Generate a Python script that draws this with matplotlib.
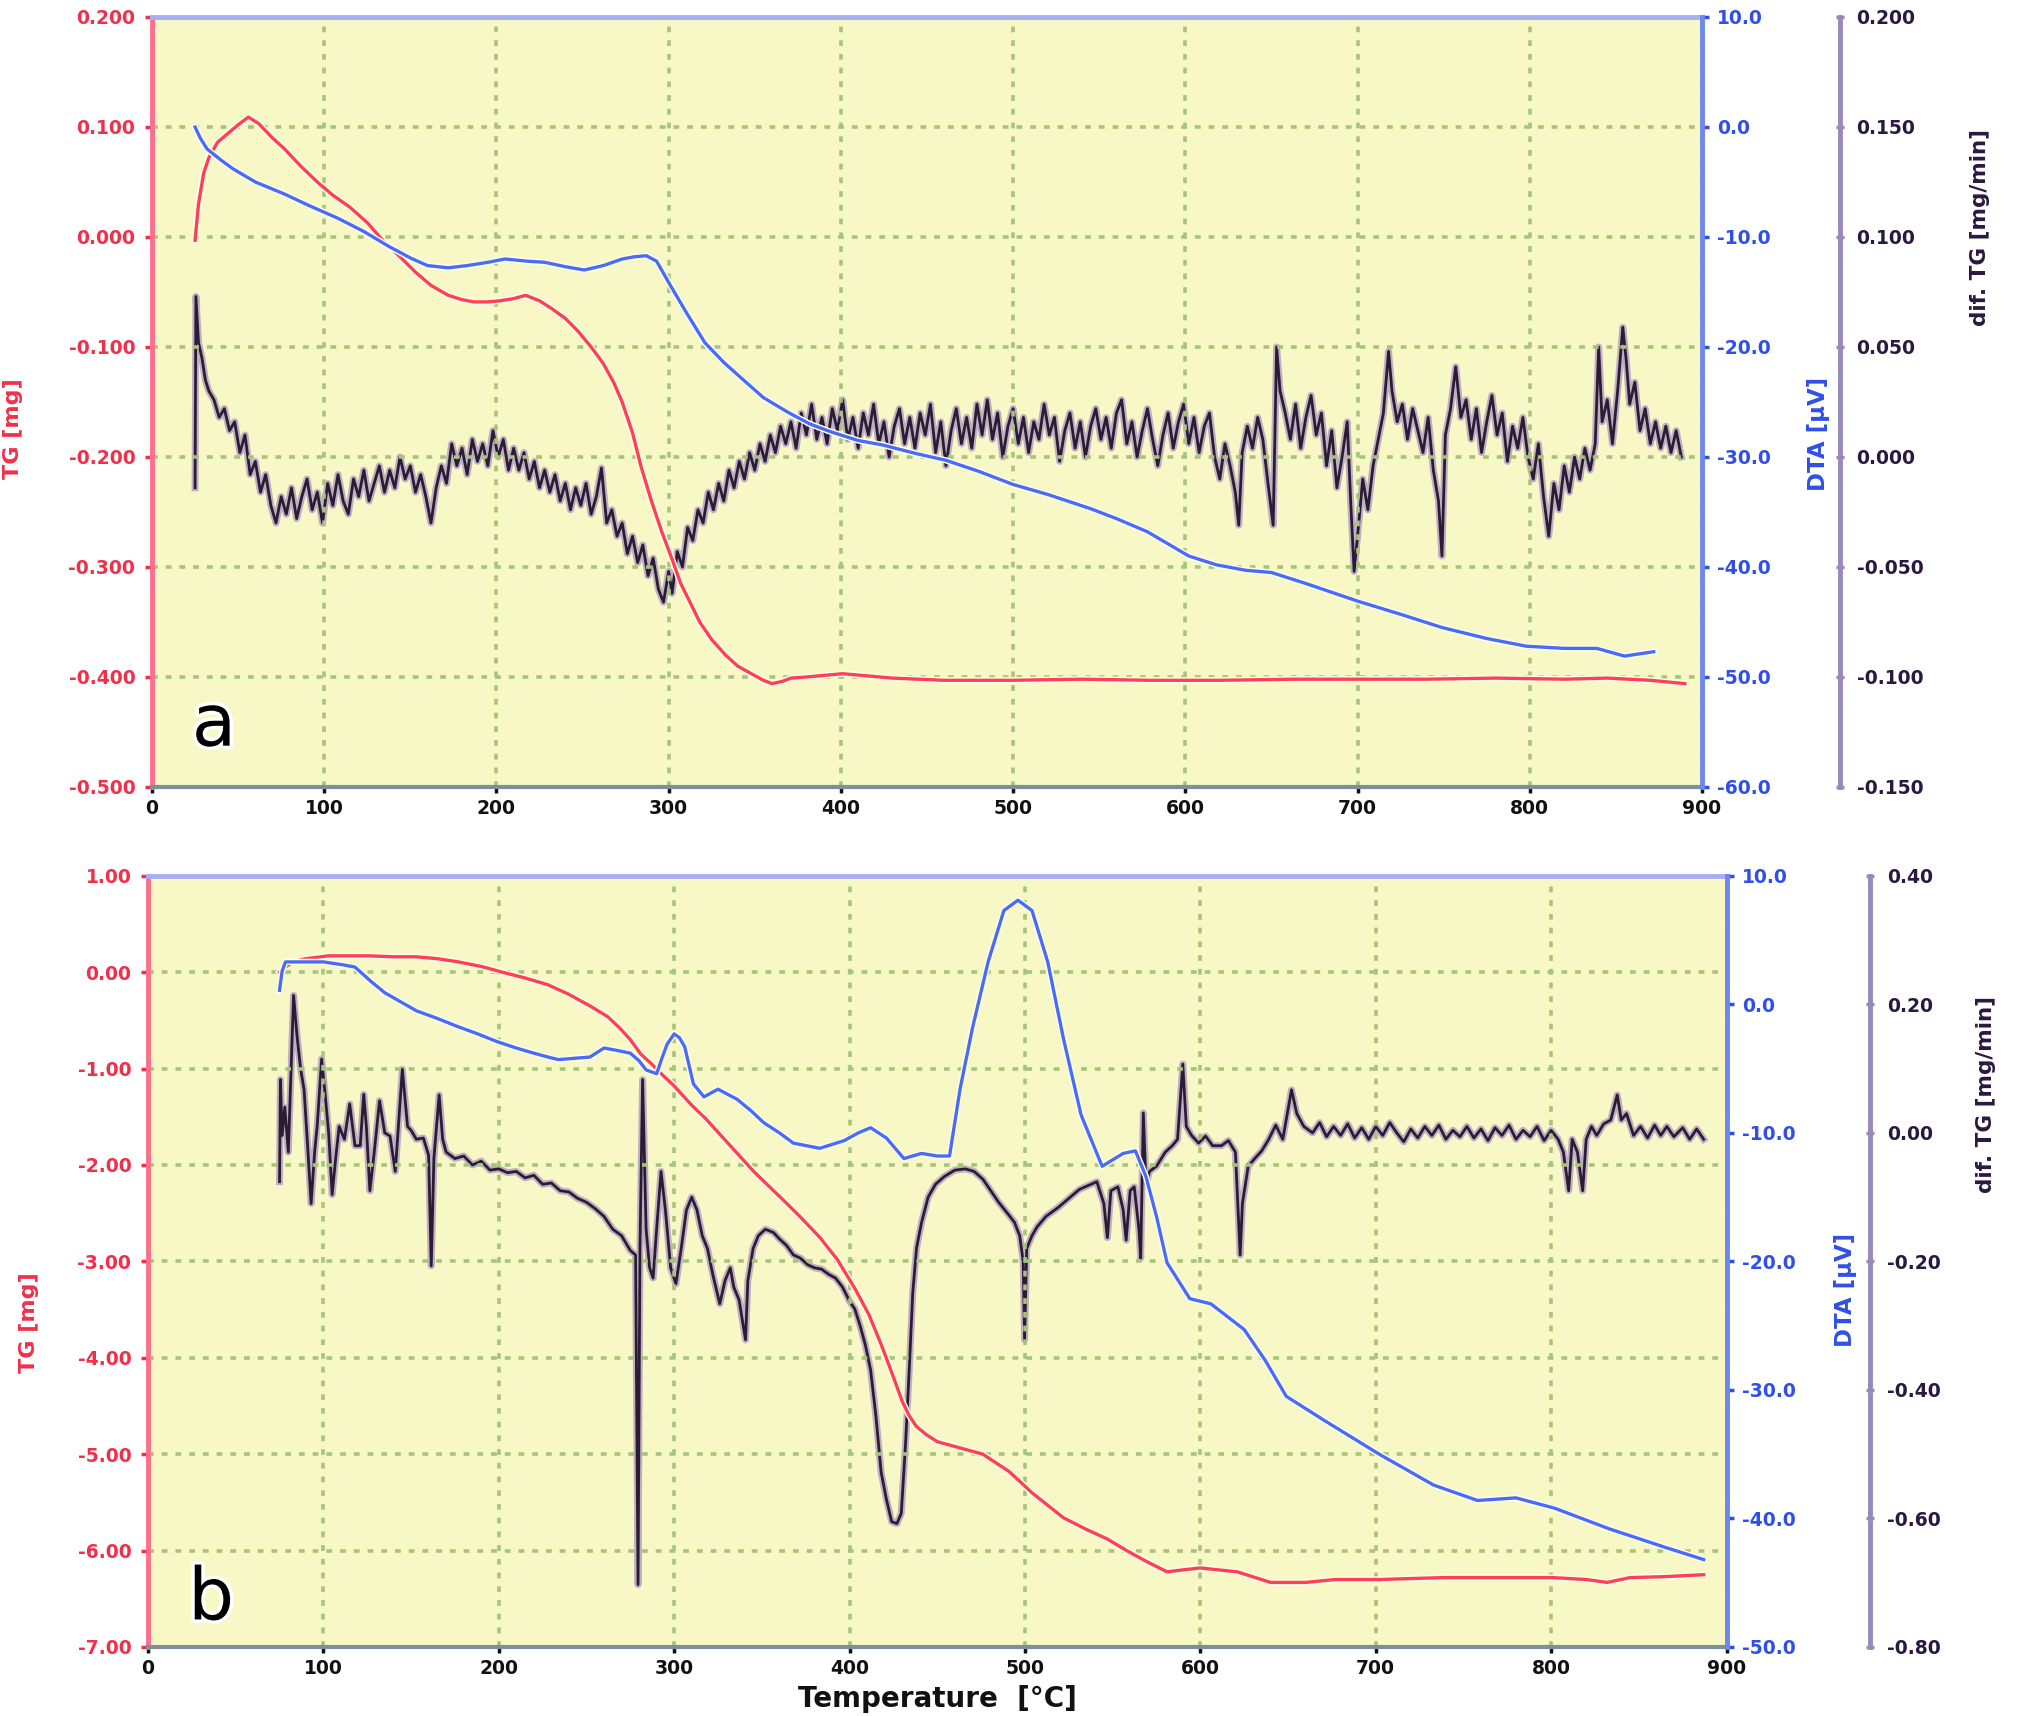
import matplotlib
matplotlib.use("Agg")
import matplotlib.pyplot as plt
import matplotlib.patheffects as pe
import numpy as np

# ---------------- data: panel a ----------------
a_tg_T = [25, 27, 30, 33, 38, 44, 50, 56, 62, 70, 77, 86, 96, 105, 115, 125, 134, 144, 153, 162, 172, 180, 187,
          195, 202, 210, 217, 225, 232, 240, 247, 255, 262, 268, 273, 279, 284, 290, 296, 302, 307, 313, 318,
          325, 333, 340, 348, 355, 360, 366, 371, 380, 401, 430, 460, 499, 540, 580, 620, 664, 700, 740,
          780, 820, 845, 870, 890]
a_tg = [-0.003, 0.030, 0.058, 0.072, 0.086, 0.094, 0.102, 0.109, 0.103, 0.090, 0.080, 0.065, 0.050, 0.038,
        0.027, 0.013, -0.003, -0.018, -0.032, -0.044, -0.053, -0.057, -0.059, -0.059, -0.058, -0.056, -0.053,
        -0.058, -0.065, -0.074, -0.085, -0.100, -0.115, -0.132, -0.150, -0.178, -0.209, -0.240, -0.268,
        -0.293, -0.315, -0.334, -0.350, -0.366, -0.380, -0.390, -0.397, -0.403, -0.406, -0.404, -0.401,
        -0.400, -0.397, -0.401, -0.403, -0.403, -0.402, -0.403, -0.403, -0.402, -0.402, -0.402, -0.401,
        -0.402, -0.401, -0.403, -0.406]

a_dta_T = [25, 28, 32, 40, 47, 60, 77, 92, 108, 123, 138, 150, 160, 172, 183, 195, 205, 218, 228, 240, 251,
           262, 273, 280, 287, 293, 301, 310, 321, 332, 342, 355, 370, 382, 394, 410, 424, 444, 461, 480, 500,
           520, 545, 560, 578, 590, 602, 618, 635, 650, 670, 700, 725, 749, 775, 798, 820, 839, 855, 872]
a_dta = [0.0, -1.0, -2.0, -3.0, -3.8, -5.0, -6.1, -7.2, -8.3, -9.5, -10.9, -11.9, -12.6, -12.8, -12.6, -12.3,
         -12.0, -12.2, -12.3, -12.7, -13.0, -12.6, -12.0, -11.8, -11.7, -12.2, -14.4, -16.8, -19.6, -21.4,
         -22.8, -24.6, -26.0, -27.0, -27.7, -28.5, -28.9, -29.7, -30.3, -31.3, -32.5, -33.4, -34.7, -35.6,
         -36.8, -37.9, -39.0, -39.8, -40.3, -40.5, -41.5, -43.1, -44.3, -45.5, -46.5, -47.2, -47.4, -47.4,
         -48.1, -47.7]

a_dtg_T = [25, 25.5, 27, 29, 31, 33, 36, 39, 42, 45, 48, 51, 54, 57, 60, 63, 66, 69, 72, 75, 78, 81, 84, 87,
           90, 93, 96, 99, 102, 105, 108, 111, 114, 117, 120, 123, 126, 129, 132, 135, 138, 141, 144, 147,
           150, 153, 156, 159, 162, 165, 168, 171, 174, 177, 180, 183, 186, 189, 192, 195, 198, 201, 204,
           207, 210, 213, 216, 219, 222, 225, 228, 231, 234, 237, 240, 243, 246, 249, 252, 255, 258, 261,
           264, 267, 270, 273, 276, 279, 282, 285, 288, 291, 294, 297, 300, 302, 305, 308, 311, 314, 317,
           320, 323, 326, 329, 332, 335, 338, 341, 344, 347, 350, 353, 356, 359, 362, 365, 368, 371, 374,
           377, 380, 383, 386, 389, 392, 395, 398, 401, 404, 407, 410, 413, 416, 419, 422, 425, 428, 431,
           434, 437, 440, 443, 446, 449, 452, 455, 458, 461, 464, 467, 470, 473, 476, 479, 482, 485, 488,
           491, 494, 497, 500, 503, 506, 509, 512, 515, 518, 521, 524, 527, 530, 533, 536, 539, 542, 545,
           548, 551, 554, 557, 560, 563, 566, 569, 572, 575, 578, 581, 584, 587, 590, 593, 596, 599, 602,
           605, 608, 611, 614, 617, 620, 623, 626, 629, 631, 633, 636, 639, 642, 645, 648, 651, 653, 655,
           658, 661, 664, 667, 670, 673, 676, 679, 682, 685, 688, 691, 694, 696, 698, 700, 703, 706, 709,
           712, 715, 718, 720, 723, 726, 729, 732, 735, 738, 741, 744, 747, 749, 751, 754, 757, 760, 763,
           766, 769, 772, 775, 778, 781, 784, 787, 790, 793, 796, 799, 802, 805, 808, 811, 814, 817, 820,
           823, 826, 829, 832, 835, 838, 840, 842, 845, 848, 851, 854, 856, 858, 861, 864, 867, 870, 873,
           876, 879, 882, 885, 888]
a_dtg = [-0.014, 0.073, 0.052, 0.045, 0.035, 0.030, 0.026, 0.018, 0.022, 0.012, 0.016, 0.002, 0.010, -0.008,
         -0.002, -0.016, -0.008, -0.022, -0.030, -0.018, -0.026, -0.014, -0.028, -0.018, -0.010, -0.024,
         -0.016, -0.030, -0.012, -0.022, -0.008, -0.020, -0.026, -0.010, -0.018, -0.006, -0.020, -0.012,
         -0.004, -0.016, -0.006, -0.014, 0.000, -0.010, -0.004, -0.016, -0.008, -0.018, -0.030, -0.014,
         -0.004, -0.012, 0.006, -0.004, 0.004, -0.008, 0.008, -0.002, 0.006, -0.004, 0.012, 0.000, 0.008,
         -0.006, 0.004, -0.006, 0.002, -0.010, -0.002, -0.014, -0.006, -0.016, -0.008, -0.020, -0.012,
         -0.024, -0.014, -0.022, -0.012, -0.026, -0.018, -0.005, -0.030, -0.024, -0.036, -0.030, -0.044,
         -0.036, -0.048, -0.040, -0.054, -0.046, -0.060, -0.066, -0.052, -0.062, -0.043, -0.050, -0.032,
         -0.038, -0.024, -0.030, -0.016, -0.024, -0.012, -0.020, -0.006, -0.014, -0.002, -0.010, 0.002,
         -0.006, 0.006, -0.002, 0.010, 0.002, 0.014, 0.006, 0.016, 0.004, 0.020, 0.010, 0.024, 0.008, 0.018,
         0.006, 0.022, 0.012, 0.026, 0.008, 0.018, 0.004, 0.020, 0.010, 0.024, 0.006, 0.016, 0.000, 0.014,
         0.022, 0.006, 0.018, 0.004, 0.020, 0.010, 0.024, 0.002, 0.016, -0.004, 0.012, 0.022, 0.006, 0.018,
         0.004, 0.024, 0.010, 0.026, 0.008, 0.020, 0.000, 0.014, 0.022, 0.006, 0.018, 0.002, 0.016, 0.008,
         0.024, 0.010, 0.018, -0.002, 0.012, 0.020, 0.004, 0.016, 0.000, 0.014, 0.022, 0.008, 0.018, 0.004,
         0.020, 0.026, 0.006, 0.016, 0.000, 0.012, 0.022, 0.008, -0.004, 0.010, 0.020, 0.004, 0.016, 0.024,
         0.006, 0.018, 0.002, 0.014, 0.020, 0.000, -0.010, 0.006, -0.004, -0.016, -0.031, 0.002, 0.014,
         0.004, 0.018, 0.008, -0.012, -0.031, 0.050, 0.030, 0.020, 0.008, 0.024, 0.004, 0.018, 0.028, 0.010,
         0.020, -0.004, 0.012, -0.014, 0.000, 0.016, -0.020, -0.052, -0.036, -0.010, -0.024, -0.004, 0.008,
         0.020, 0.048, 0.030, 0.016, 0.024, 0.008, 0.022, 0.012, 0.002, 0.018, -0.006, -0.020, -0.045, 0.010,
         0.022, 0.041, 0.018, 0.026, 0.008, 0.022, 0.002, 0.016, 0.028, 0.010, 0.020, -0.002, 0.014, 0.004,
         0.018, 0.000, -0.010, 0.006, -0.018, -0.036, -0.012, -0.024, -0.004, -0.016, 0.000, -0.010, 0.004,
         -0.006, 0.006, 0.050, 0.016, 0.026, 0.006, 0.030, 0.059, 0.044, 0.024, 0.034, 0.012, 0.022, 0.006,
         0.016, 0.004, 0.014, 0.002, 0.012, 0.000]

# ---------------- data: panel b ----------------
b_tg_T = [75, 78, 83, 90, 103, 115, 126, 140, 153, 165, 176, 190, 202, 215, 228, 240, 252, 262, 269, 275, 281,
          287, 293, 300, 310, 318, 327, 336, 345, 354, 362, 372, 383, 393, 403, 411, 418, 424, 430, 434, 438,
          444, 450, 460, 476, 491, 504, 513, 522, 535, 547, 558, 569, 581, 590, 600, 621, 640, 660, 677,
          702, 720, 739, 770, 801, 820, 832, 845, 865, 887]
b_tg = [0.00, 0.05, 0.11, 0.14, 0.17, 0.17, 0.17, 0.16, 0.16, 0.14, 0.11, 0.06, 0.00, -0.06, -0.13, -0.23,
        -0.35, -0.46, -0.58, -0.70, -0.85, -0.95, -1.06, -1.18, -1.38, -1.52, -1.70, -1.88, -2.06, -2.22,
        -2.36, -2.54, -2.75, -2.98, -3.28, -3.55, -3.86, -4.15, -4.45, -4.60, -4.71, -4.80, -4.87, -4.92,
        -5.00, -5.18, -5.40, -5.53, -5.66, -5.78, -5.88, -6.00, -6.11, -6.22, -6.20, -6.18, -6.22, -6.33,
        -6.33, -6.30, -6.30, -6.29, -6.28, -6.28, -6.28, -6.30, -6.33, -6.28, -6.27, -6.25]

b_dta_T = [75, 76.5, 78.4, 90, 100, 110, 118, 127, 135, 144, 153, 165, 176, 188, 199, 210, 220, 228, 234,
           243, 252, 260, 268, 275, 280, 284, 290, 293, 296, 300, 303, 306, 311, 317, 325, 336, 344, 351,
           360, 368, 383, 397, 405, 412, 421, 431, 441, 450, 457, 463, 470, 479, 488, 496, 504, 513, 522,
           532, 544, 556, 563, 569, 575, 581, 594, 606, 625, 637, 649, 671, 702, 733, 758, 780, 802, 833,
           864, 887]
b_dta = [1.1, 2.6, 3.3, 3.3, 3.3, 3.1, 2.9, 1.8, 0.9, 0.2, -0.5, -1.1, -1.7, -2.3, -2.9, -3.4, -3.8, -4.1,
         -4.3, -4.2, -4.1, -3.4, -3.6, -3.8, -4.4, -5.1, -5.4, -4.2, -3.1, -2.3, -2.6, -3.3, -6.2, -7.2, -6.6,
         -7.4, -8.3, -9.2, -10.0, -10.8, -11.2, -10.6, -10.0, -9.6, -10.4, -12.0, -11.6, -11.8, -11.8, -6.6,
         -1.9, 3.3, 7.3, 8.1, 7.3, 3.3, -2.7, -8.6, -12.6, -11.6, -11.4, -13.4, -16.5, -20.1, -22.9, -23.3,
         -25.3, -27.7, -30.5, -32.4, -35.0, -37.4, -38.6, -38.4, -39.2, -40.8, -42.2, -43.2]

b_dtg_T = [75, 75.5, 76.5, 78, 80, 83, 85, 87, 89, 91, 93, 95, 96.5, 99, 101, 103, 105, 107, 109, 112, 115,
           118, 121, 123, 124.5, 126.5, 129, 132, 135, 138, 141, 143, 145, 148, 150, 153, 157, 160, 161.5,
           163, 166, 168, 170, 175, 180, 185, 190, 195, 200, 205, 210, 215, 220, 225, 230, 235, 240, 245,
           250, 255, 260, 265, 270, 275, 278, 279.4, 280.5, 282, 284, 286, 288, 290, 292.5, 295, 298, 301,
           304, 307, 310, 313, 316, 319, 322, 326, 329, 332, 334, 337, 340.7, 342, 345, 348, 352, 356.6,
           360, 364, 368, 372, 376, 380, 384, 388, 392, 396, 400, 403, 406, 409, 412, 415, 418, 421, 424,
           427, 429.5, 432, 434, 436, 438.2, 441, 444.8, 449, 454, 460, 466, 471, 476, 480, 485, 490, 494,
           497, 499, 499.8, 501, 504, 507, 512, 519, 525, 531, 536, 541, 545, 547, 549, 553, 556, 557.7,
           560, 562.3, 565, 566, 567.5, 569, 571, 575, 580, 584, 587, 590, 592, 595, 599, 603, 607, 612,
           616, 620, 622.7, 624, 627.3, 631, 635, 639, 643, 647, 652, 655, 659, 664, 668, 672, 676, 680,
           684, 688, 692, 696, 700, 704, 708, 712, 716, 720, 724, 728, 732, 736, 740, 744, 748, 752, 756,
           760, 764, 768, 772, 776, 780, 784, 788, 792, 796, 800, 804, 807, 810, 812, 815, 818, 820, 823,
           826, 830, 834, 837.7, 840, 843, 847, 851, 855, 859, 862.5, 866, 870, 875, 879, 883, 887]
b_dtg = [-0.076, 0.083, -0.004, 0.040, -0.030, 0.214, 0.150, 0.100, 0.067, -0.020, -0.110, -0.030, 0.012,
         0.115, 0.060, 0.000, -0.096, -0.040, 0.010, -0.010, 0.045, -0.020, -0.020, 0.060, 0.010, -0.090,
         -0.030, 0.050, 0.000, -0.005, -0.060, 0.020, 0.099, 0.010, 0.004, -0.010, -0.008, -0.035, -0.207,
         -0.040, 0.059, -0.010, -0.030, -0.040, -0.036, -0.050, -0.044, -0.058, -0.056, -0.062, -0.060,
         -0.070, -0.066, -0.080, -0.078, -0.090, -0.092, -0.102, -0.108, -0.118, -0.130, -0.150, -0.160,
         -0.183, -0.190, -0.703, -0.180, 0.083, -0.150, -0.210, -0.226, -0.150, -0.060, -0.120, -0.210,
         -0.235, -0.180, -0.120, -0.100, -0.120, -0.160, -0.180, -0.220, -0.266, -0.230, -0.210, -0.240,
         -0.260, -0.322, -0.230, -0.180, -0.160, -0.150, -0.155, -0.165, -0.175, -0.190, -0.195, -0.205,
         -0.210, -0.212, -0.220, -0.226, -0.240, -0.262, -0.274, -0.300, -0.330, -0.369, -0.440, -0.528,
         -0.570, -0.605, -0.608, -0.592, -0.480, -0.370, -0.250, -0.179, -0.140, -0.100, -0.080, -0.068,
         -0.058, -0.056, -0.060, -0.072, -0.088, -0.108, -0.125, -0.139, -0.160, -0.200, -0.322, -0.180,
         -0.160, -0.146, -0.130, -0.116, -0.102, -0.088, -0.082, -0.076, -0.110, -0.163, -0.090, -0.084,
         -0.120, -0.167, -0.090, -0.084, -0.150, -0.195, 0.031, -0.080, -0.060, -0.052, -0.030, -0.020,
         -0.010, 0.107, 0.010, -0.004, -0.016, -0.005, -0.020, -0.020, -0.012, -0.030, -0.190, -0.110,
         -0.052, -0.040, -0.028, -0.010, 0.012, -0.010, 0.067, 0.030, 0.010, 0.000, 0.016, -0.006, 0.010,
         -0.004, 0.014, -0.008, 0.008, -0.010, 0.010, -0.004, 0.016, 0.000, -0.014, 0.006, -0.008, 0.010,
         -0.004, 0.012, -0.010, 0.004, -0.006, 0.010, -0.008, 0.006, -0.012, 0.008, -0.004, 0.012, -0.010,
         0.004, -0.006, 0.010, -0.012, 0.004, -0.010, -0.030, -0.090, -0.010, -0.030, -0.090, -0.010,
         0.010, -0.004, 0.014, 0.020, 0.059, 0.020, 0.030, -0.004, 0.010, -0.008, 0.012, -0.004, 0.010,
         -0.006, 0.008, -0.010, 0.006, -0.010]

# ---------------- axis ticks / labels ----------------
x_ticks = [0, 100, 200, 300, 400, 500, 600, 700, 800, 900]
x_labels = ["0", "100", "200", "300", "400", "500", "600", "700", "800", "900"]

a_tg_ticks = [0.2, 0.1, 0.0, -0.1, -0.2, -0.3, -0.4, -0.5]
a_tg_labels = ["0.200", "0.100", "0.000", "-0.100", "-0.200", "-0.300", "-0.400", "-0.500"]
a_dta_ticks = [10, 0, -10, -20, -30, -40, -50, -60]
a_dta_labels = ["10.0", "0.0", "-10.0", "-20.0", "-30.0", "-40.0", "-50.0", "-60.0"]
a_dtg_ticks = [0.2, 0.15, 0.1, 0.05, 0.0, -0.05, -0.1, -0.15]
a_dtg_labels = ["0.200", "0.150", "0.100", "0.050", "0.000", "-0.050", "-0.100", "-0.150"]

b_tg_ticks = [1, 0, -1, -2, -3, -4, -5, -6, -7]
b_tg_labels = ["1.00", "0.00", "-1.00", "-2.00", "-3.00", "-4.00", "-5.00", "-6.00", "-7.00"]
b_dta_ticks = [10, 0, -10, -20, -30, -40, -50]
b_dta_labels = ["10.0", "0.0", "-10.0", "-20.0", "-30.0", "-40.0", "-50.0"]
b_dtg_ticks = [0.4, 0.2, 0.0, -0.2, -0.4, -0.6, -0.8]
b_dtg_labels = ["0.40", "0.20", "0.00", "-0.20", "-0.40", "-0.60", "-0.80"]

# ---------------- style ----------------
BG = "#F8F8C6"
RED = "#FF4050"
BLUE = "#4A6CF4"
PURPLE = "#9888BC"
RED_TXT = "#F0304A"
BLUE_TXT = "#2F4FE8"
DARK_TXT = "#2A1840"
GRID = "#A6C47A"
TICK_FS = 13.5

plt.rcParams["font.family"] = ["DejaVu Sans"]

fig = plt.figure(figsize=(20.32, 17.16), dpi=100)


def make_panel(rect, tg_lim, tg_ticks, tg_labels, dta_lim, dta_ticks, dta_labels,
               dtg_lim, dtg_ticks, dtg_labels, dtg_offset, label_pos, letter, letter_pos):
    ax3 = fig.add_axes(rect)          # dTG (bottom layer, holds background)
    ax = fig.add_axes(rect)           # TG
    ax2 = fig.add_axes(rect)          # DTA
    ax3.set_zorder(0)
    ax.set_zorder(1)
    ax2.set_zorder(2)
    ax3.set_facecolor(BG)
    ax.patch.set_visible(False)
    ax2.patch.set_visible(False)

    for a in (ax, ax2, ax3):
        a.set_xlim(0, 900)
        a.spines[:].set_visible(False)

    # TG axis (left)
    ax.set_ylim(*tg_lim)
    ax.set_yticks(tg_ticks)
    ax.set_yticklabels(tg_labels)
    ax.set_xticks(x_ticks)
    ax.set_xticklabels(x_labels)
    ax.spines["left"].set_visible(True)
    ax.spines["left"].set_color("#FF6E8A")
    ax.spines["left"].set_linewidth(3.5)
    ax.spines["bottom"].set_visible(True)
    ax.spines["bottom"].set_color("#7F8E9A")
    ax.spines["bottom"].set_linewidth(3)
    ax.spines["top"].set_visible(True)
    ax.spines["top"].set_color("#A8AEF2")
    ax.spines["top"].set_linewidth(3.5)
    ax.tick_params(axis="y", colors=RED_TXT, labelsize=TICK_FS, length=5, width=2.5, pad=7, direction="out")
    ax.tick_params(axis="x", colors="#111111", labelsize=TICK_FS, length=4, width=2.5, pad=5, direction="out")
    for t in ax.get_yticklabels() + ax.get_xticklabels():
        t.set_fontweight("bold")
    ax.grid(True, color=GRID, linestyle=(0, (1.6, 2.2)), linewidth=2.6)
    ax.set_ylabel("TG [mg]", color=RED_TXT, fontsize=16, fontweight="bold")
    ax.yaxis.set_label_coords(label_pos[0], label_pos[1])

    # DTA axis (right)
    ax2.yaxis.tick_right()
    ax2.yaxis.set_label_position("right")
    ax2.set_ylim(*dta_lim)
    ax2.set_yticks(dta_ticks)
    ax2.set_yticklabels(dta_labels)
    ax2.set_xticks([])
    ax2.spines["right"].set_visible(True)
    ax2.spines["right"].set_color("#6C86F2")
    ax2.spines["right"].set_linewidth(3.5)
    ax2.tick_params(axis="y", colors=BLUE_TXT, labelsize=TICK_FS, length=5, width=2.5, pad=6)
    for t in ax2.get_yticklabels():
        t.set_fontweight("bold")
    ax2.set_ylabel("DTA [µV]", color=BLUE_TXT, fontsize=16.5, fontweight="bold")
    ax2.yaxis.set_label_coords(label_pos[2], label_pos[3])

    # dTG axis (offset right)
    ax3.yaxis.tick_right()
    ax3.yaxis.set_label_position("right")
    ax3.set_ylim(*dtg_lim)
    ax3.set_yticks(dtg_ticks)
    ax3.set_yticklabels(dtg_labels)
    ax3.set_xticks([])
    ax3.spines["right"].set_visible(True)
    ax3.spines["right"].set_position(("axes", dtg_offset))
    ax3.spines["right"].set_color(PURPLE)
    ax3.spines["right"].set_linewidth(3.5)
    ax3.tick_params(axis="y", colors=PURPLE, labelcolor=DARK_TXT, labelsize=TICK_FS, length=6,
                    width=2.5, pad=9, direction="inout")
    for t in ax3.get_yticklabels():
        t.set_fontweight("bold")
    ax3.set_ylabel("dif. TG [mg/min]", color=DARK_TXT, fontsize=15.5, fontweight="bold")
    ax3.yaxis.set_label_coords(label_pos[4], label_pos[5])

    ax.text(letter_pos[0], letter_pos[1], letter, transform=ax.transAxes, fontsize=52,
            ha="center", va="center", color="black", zorder=10,
            path_effects=[pe.withStroke(linewidth=5, foreground="white")])
    return ax, ax2, ax3


def draw_dtg(ax3, T, v):
    ax3.plot(T, v, color="#BFAFC2", lw=5.0, solid_joinstyle="round", zorder=2)
    ax3.plot(T, v, color="#2B1C33", lw=2.0, solid_joinstyle="round", zorder=3)


halo = [pe.withStroke(linewidth=4.5, foreground="#FFFFF0")]

# ---- panel a ----
axA, axA2, axA3 = make_panel([152 / 2032, 1 - 787 / 1716, 1550 / 2032, 770 / 1716],
                             (-0.5, 0.2), a_tg_ticks, a_tg_labels,
                             (-60, 10), a_dta_ticks, a_dta_labels,
                             (-0.15, 0.2), a_dtg_ticks, a_dtg_labels, 1.089,
                             (-0.083, 0.466, 1.068, 0.458, 1.173, 0.727), "a", (0.040, 0.079))
draw_dtg(axA3, a_dtg_T, a_dtg)
axA.plot(a_tg_T, a_tg, color=RED, lw=2.4, path_effects=halo, zorder=4)
axA2.plot(a_dta_T, a_dta, color=BLUE, lw=2.4, path_effects=halo, zorder=4)

# ---- panel b ----
axB, axB2, axB3 = make_panel([148 / 2032, 1 - 1647 / 1716, 1578.5 / 2032, 771.2 / 1716],
                             (-7, 1), b_tg_ticks, b_tg_labels,
                             (-50, 10), b_dta_ticks, b_dta_labels,
                             (-0.8, 0.4), b_dtg_ticks, b_dtg_labels, 1.091,
                             (-0.069, 0.421, 1.068, 0.463, 1.158, 0.716), "b", (0.040, 0.061))
draw_dtg(axB3, b_dtg_T, b_dtg)
axB.plot(b_tg_T, b_tg, color=RED, lw=2.4, path_effects=halo, zorder=4)
axB2.plot(b_dta_T, b_dta, color=BLUE, lw=2.4, path_effects=halo, zorder=4)
axB.set_xlabel("Temperature  [°C]", fontsize=20, fontweight="bold", color="#111111")
axB.xaxis.set_label_coords(0.5, -0.049)

fig.savefig("out.png", dpi=100)
